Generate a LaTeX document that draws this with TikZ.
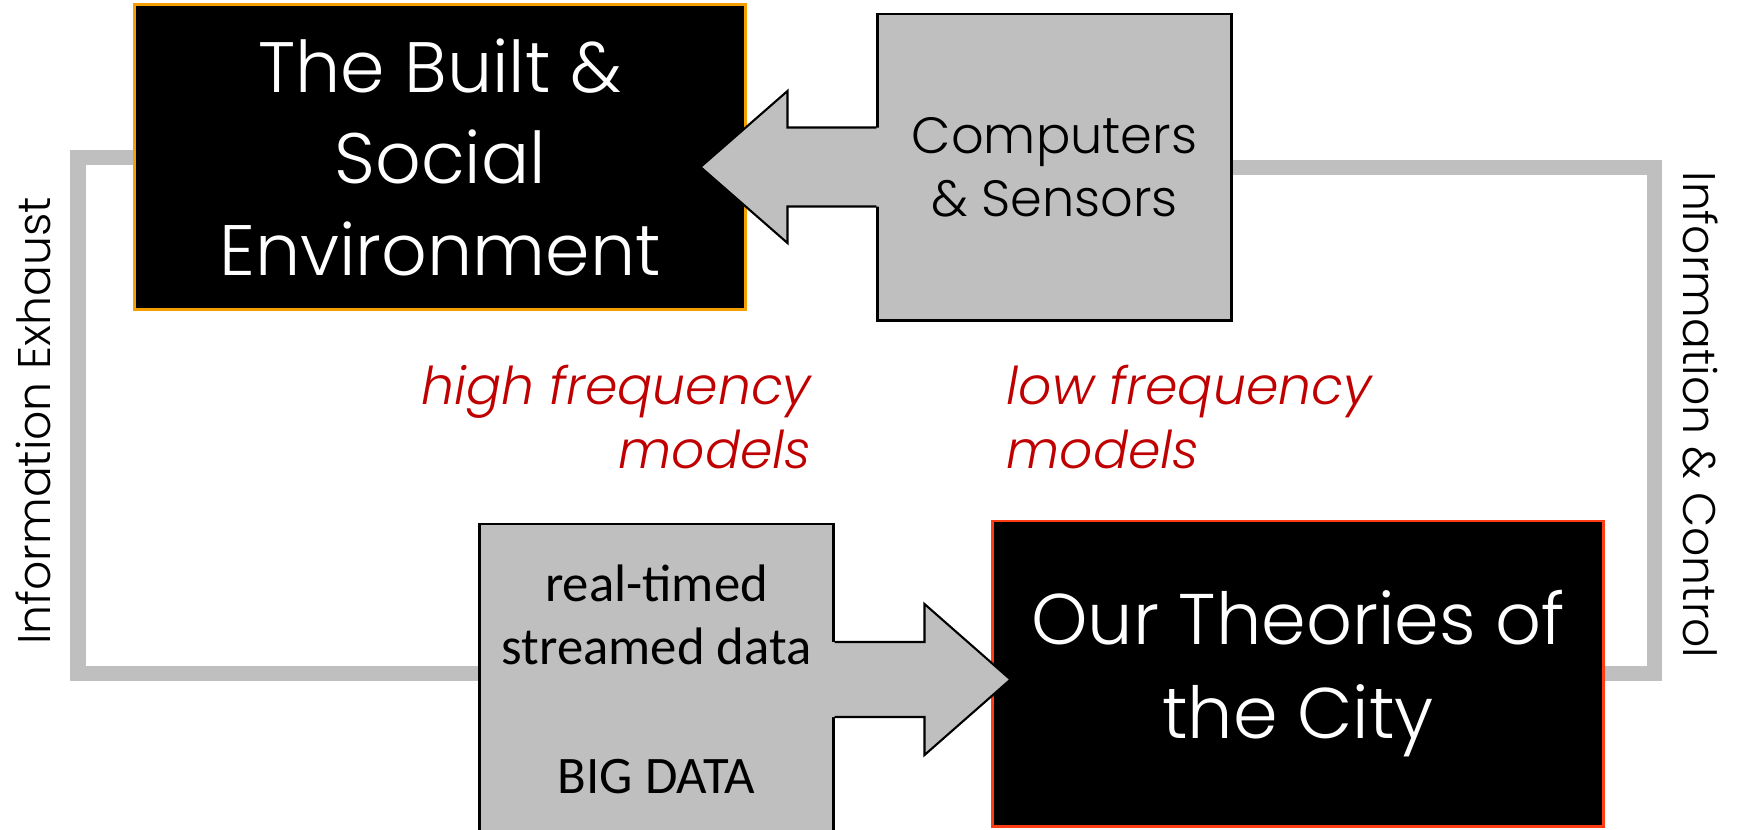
\documentclass[tikz,border=0pt]{standalone}
\usepackage{fontspec}
\IfFontExistsTF{Poppins Light}{\setmainfont{Poppins Light}[ItalicFont={Poppins Light Italic}]}{\setmainfont{Poppins}}
\newfontfamily\calib{Carlito}
\usetikzlibrary{calc,backgrounds}
\definecolor{boxgray}{HTML}{BFBFBF}
\definecolor{frameorange}{HTML}{F5A000}
\definecolor{framered}{HTML}{FF3C14}
\definecolor{modelred}{HTML}{C00000}
\tikzset{
  darkbox/.style={fill=black, text=white, minimum width=6.1cm, minimum height=3.05cm,
    align=center, line width=0.8pt, inner sep=0pt},
  graybox/.style={fill=boxgray, draw=black, minimum width=3.53cm, minimum height=3.06cm,
    align=center, line width=0.8pt, inner sep=0pt},
  loopline/.style={draw=boxgray, line width=0.15cm},
  arrowline/.style={draw=black, line width=0.6pt},
  modeltext/.style={text=modelred, inner sep=0pt, font=\itshape\fontsize{14.8}{18}\selectfont},
  sidelabel/.style={inner sep=0pt, font=\fontsize{13}{16}\selectfont},
}
\begin{document}
\begin{tikzpicture}[x=0.01cm, y=-0.01cm]
\useasboundingbox (0,0) rectangle (1738,829);
% the four boxes
\node[darkbox, draw=frameorange, font=\fontsize{20.3}{26}\selectfont] (built) at (440,157)
  {The Built \&\\Social\\Environment};
\node[graybox, font=\fontsize{14.5}{18}\selectfont] (comp) at (1054.5,167) {Computers\\\& Sensors};
\node[graybox, minimum height=3.11cm, font=\calib\fontsize{15}{18}\selectfont] (bigdata) at (656.5,679.5)
  {real-timed\\streamed data\\[0.66cm]BIG DATA};
\node[darkbox, draw=framered, font=\fontsize{20.4}{26.5}\selectfont] (city) at (1298,673.5)
  {Our Theories of\\the City};
% models
\node[modeltext, align=right, anchor=east] (high) at (812,417) {high frequency\\models};
\node[modeltext, align=left, anchor=west] (low) at (1006,417) {low frequency\\models};
% side labels
\node[sidelabel, rotate=90] (exhaust) at (33,421) {Information Exhaust};
\node[sidelabel, rotate=-90] (control) at (1701,415) {Information \& Control};
% feedback loops
\coordinate (lx) at (78,0);
\coordinate (rx) at (1654,0);
\begin{scope}[on background layer]
\draw[loopline] (built.west) -- (built.west -| lx) -- (lx |- city.east) -- (bigdata.west |- city.east);
\draw[loopline] (comp.east) -- (comp.east -| rx) -- (rx |- city.east) -- (city.east);
\end{scope}
% block arrows
\fill[boxgray] (comp.west) ++(3,-39.5) -- ++(-92,0) -- ++(0,-36.5) -- ++(-87,76) -- ++(87,76)
  -- ++(0,-36.5) -- ++(92,0) -- cycle;
\draw[arrowline] (comp.west) ++(0,-39.5) -- ++(-89,0) -- ++(0,-36.5) -- ++(-87,76) -- ++(87,76)
  -- ++(0,-36.5) -- ++(89,0);
\fill[boxgray] (bigdata.east) ++(-3,-37.5) -- ++(93,0) -- ++(0,-38) -- ++(86,75.5) -- ++(-86,75.5)
  -- ++(0,-38) -- ++(-93,0) -- cycle;
\draw[arrowline] (bigdata.east) ++(0,-37.5) -- ++(90,0) -- ++(0,-38) -- ++(86,75.5) -- ++(-86,75.5)
  -- ++(0,-38) -- ++(-90,0);
\end{tikzpicture}
\end{document}
